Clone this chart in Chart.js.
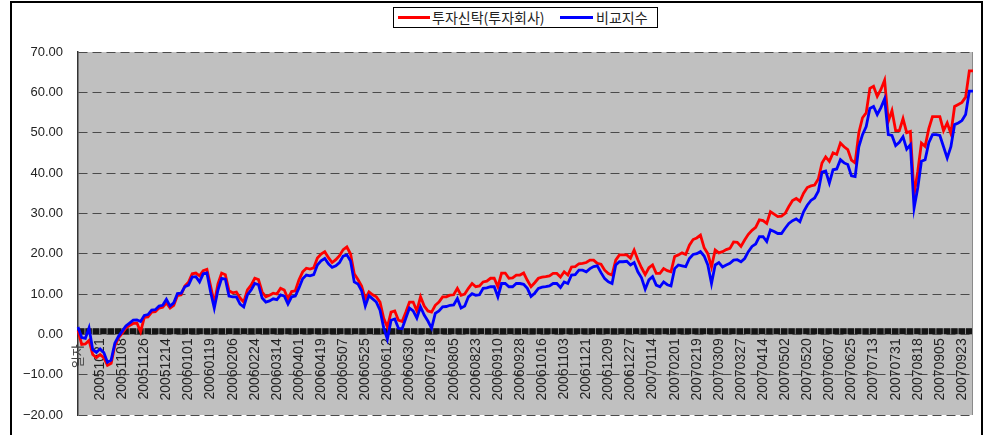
<!DOCTYPE html>
<html>
<head>
<meta charset="utf-8">
<script src="https://cdn.jsdelivr.net/npm/chart.js@4.4.1/dist/chart.umd.min.js"></script>
<style>
  body { margin: 0; background: #fff; }
  .wrap { position: relative; width: 986px; height: 435px; overflow: hidden; }
  .frame { position: absolute; left: 10px; top: 1px; width: 969px; height: 450px; border: 2px solid #000; }
  canvas { position: absolute; left: 0; top: 0; }
  .legend { position: absolute; left: 393px; top: 7px; width: 263px; height: 19px; border: 1px solid #000; background: #fff;
    font: 14px "Noto Sans CJK KR", sans-serif; color: #222; }
  .legend .sw { position: absolute; top: 8px; height: 3px; }
  .legend .tx { position: absolute; top: 0; line-height: 19px; white-space: nowrap; }
</style>
</head>
<body>
<div class="wrap">
  <div class="frame"></div>
  <canvas id="returnChart" width="986" height="435"></canvas>
  <div class="legend">
    <span class="sw" style="left:4px;width:32px;background:#ff0000"></span>
    <span class="tx" style="left:38px">투자신탁(투자회사)</span>
    <span class="sw" style="left:166px;width:33px;background:#0000ff"></span>
    <span class="tx" style="left:202px">비교지수</span>
  </div>
</div>
<script>
// sampled every 3 calendar days from 2005-10-03
const startDate = '20051003';
const sampleStepDays = 3;

const tickLabels = [
  '20051021', '20051108', '20051126', '20051214', '20060101', '20060119', '20060206', '20060224',
  '20060314', '20060401', '20060419', '20060507', '20060525', '20060612', '20060630', '20060718',
  '20060805', '20060823', '20060910', '20060928', '20061016', '20061103', '20061121', '20061209',
  '20061227', '20070114', '20070201', '20070219', '20070309', '20070327', '20070414', '20070502',
  '20070520', '20070607', '20070625', '20070713', '20070731', '20070818', '20070905', '20070923',
];

// 투자신탁(투자회사) 수익률 (%)
const fundReturn = [
  1.0, -2.5, -2.4, -1.5, -5.0, -5.8, -5.0, -5.8, -7.7, -7.2,
  -2.8, -0.9, 0.3, 1.6, 2.2, 2.7, 2.8, 0.6, 4.2, 4.3,
  5.5, 5.6, 6.5, 6.7, 7.8, 6.5, 7.2, 9.6, 9.8, 12.0,
  12.9, 15.0, 15.2, 14.5, 15.8, 16.1, 12.0, 7.7, 12.5, 15.2,
  14.8, 10.8, 10.3, 10.5, 9.0, 8.0, 11.0, 12.2, 13.9, 13.6,
  10.5, 9.3, 9.7, 10.2, 10.0, 11.4, 11.0, 8.8, 10.6, 10.8,
  13.5, 15.5, 16.4, 16.2, 16.5, 18.9, 19.9, 20.5, 19.0, 17.8,
  18.5, 19.5, 21.0, 21.7, 19.9, 15.0, 13.6, 12.0, 8.8, 10.5,
  9.8, 9.3, 8.0, 4.0, 1.8, 5.5, 5.8, 3.5, 3.2, 5.5,
  8.0, 8.0, 5.8, 9.3, 7.0, 5.8, 5.5, 7.2, 8.0, 9.3,
  9.3, 9.7, 9.8, 11.4, 9.7, 10.0, 11.4, 12.6, 11.8, 12.0,
  13.0, 13.2, 13.9, 13.9, 11.8, 15.2, 15.2, 13.9, 14.0, 14.7,
  14.7, 15.2, 13.4, 11.8, 12.8, 13.9, 14.2, 14.3, 14.5, 15.1,
  15.1, 14.2, 15.5, 14.7, 16.7, 16.8, 17.5, 17.6, 17.8, 18.4,
  18.4, 17.6, 17.4, 15.9, 15.1, 14.7, 18.4, 19.7, 19.7, 19.7,
  18.9, 20.9, 18.5, 16.5, 14.8, 16.5, 17.2, 15.1, 15.1, 16.3,
  15.8, 15.5, 19.3, 19.7, 20.2, 19.8, 22.1, 23.5, 23.9, 24.6,
  21.5, 20.0, 16.7, 20.9, 20.2, 20.5, 21.0, 21.3, 22.9, 22.8,
  21.8, 23.4, 24.8, 25.8, 26.5, 28.4, 28.2, 27.5, 30.4, 29.8,
  29.2, 29.3, 30.0, 31.7, 33.2, 33.7, 33.0, 35.0, 36.4, 36.8,
  37.0, 38.5, 42.5, 44.0, 42.9, 45.0, 44.6, 47.4, 46.5, 45.8,
  43.2, 42.5, 50.0, 53.7, 54.9, 61.0, 61.5, 59.0, 60.7, 63.0,
  52.8, 55.5, 50.5, 50.5, 53.5, 50.0, 50.3, 34.6, 40.4, 47.4,
  46.6, 51.0, 54.0, 54.0, 54.0, 50.5, 52.4, 49.8, 56.5, 57.0,
  57.5, 58.8, 65.3, 65.3,
];

// 비교지수 수익률 (%)
const benchReturn = [
  1.8, -0.8, -1.0, 1.6, -3.8, -4.5, -3.6, -4.5, -6.9, -6.4,
  -2.2, -0.5, 0.8, 2.1, 2.8, 3.5, 3.6, 3.2, 4.7, 4.9,
  6.0, 6.1, 7.0, 7.2, 8.7, 7.0, 7.8, 10.1, 10.2, 11.8,
  12.2, 14.2, 14.3, 13.0, 15.0, 15.2, 10.5, 6.5, 11.0, 13.9,
  13.7, 9.5, 9.3, 9.3, 7.5, 6.8, 9.8, 11.0, 12.6, 12.3,
  9.0, 8.0, 8.3, 8.8, 8.6, 9.8, 9.5, 7.5, 9.3, 9.5,
  11.5, 13.8, 14.7, 14.5, 14.8, 17.2, 18.2, 18.8, 17.5, 16.6,
  17.0, 17.8, 19.4, 19.7, 18.2, 13.0, 12.5, 10.8, 7.0, 9.6,
  8.8, 8.0, 6.0, 1.6, -1.2, 3.5, 3.8, 1.5, 1.4, 4.0,
  6.5, 5.8, 4.0, 6.8, 4.8, 3.3, 1.5, 5.2, 5.8, 6.8,
  6.9, 7.2, 7.3, 8.9, 6.5, 7.0, 9.3, 10.1, 9.7, 9.8,
  11.4, 11.5, 11.8, 11.8, 9.3, 12.6, 12.6, 11.8, 11.8, 12.6,
  12.6, 12.4, 11.4, 9.4, 10.2, 11.4, 11.7, 11.8, 12.0, 12.6,
  12.6, 11.6, 13.0, 12.6, 14.7, 14.8, 15.9, 15.9, 15.5, 16.3,
  16.8, 17.0, 15.3, 13.8, 13.0, 12.6, 17.2, 18.0, 18.0, 18.1,
  17.2, 17.8, 15.5, 14.0, 11.2, 13.5, 14.3, 12.2, 11.8, 13.0,
  12.3, 12.0, 16.3, 17.2, 17.0, 16.8, 18.8, 19.8, 20.0, 20.5,
  19.4, 17.2, 12.6, 17.2, 17.8, 16.7, 17.2, 17.6, 18.4, 18.5,
  18.0, 18.8, 20.5, 21.8, 22.4, 24.2, 24.2, 23.0, 25.9, 25.5,
  25.0, 25.0, 26.3, 27.5, 28.2, 28.6, 27.9, 30.4, 32.0, 33.2,
  33.8, 35.5, 40.2, 40.5, 37.5, 40.8, 41.0, 43.3, 42.5, 42.1,
  39.3, 39.1, 46.5, 49.5, 51.5, 56.0, 56.5, 54.5, 56.2, 58.4,
  49.5, 49.3, 46.8, 47.6, 49.0, 45.9, 47.0, 31.3, 36.3, 42.9,
  43.3, 47.5, 49.5, 49.5, 49.3, 46.5, 43.7, 46.5, 52.0, 52.4,
  53.0, 54.5, 60.3, 60.3,
];

const yMin = -20;
const yMax = 70;
const yStep = 10;

const pad2 = (n) => String(n).padStart(2, '0');

const buildDates = () => {
  const base = Date.UTC(+startDate.slice(0, 4), +startDate.slice(4, 6) - 1, +startDate.slice(6, 8));
  return fundReturn.map((_, i) => {
    const d = new Date(base + i * sampleStepDays * 86400000);
    return `${d.getUTCFullYear()}${pad2(d.getUTCMonth() + 1)}${pad2(d.getUTCDate())}`;
  });
};

const sampleDates = buildDates();

const plotDecor = {
  id: 'plotDecor',
  beforeDraw(chart) {
    const { ctx, chartArea: a } = chart;
    ctx.save();
    ctx.fillStyle = '#c0c0c0';
    ctx.fillRect(a.left, a.top, a.right - a.left, a.bottom - a.top);
    ctx.restore();
  },
  beforeDatasetsDraw(chart) {
    const { ctx, chartArea: a, scales } = chart;
    const y0 = scales.y.getPixelForValue(0);
    ctx.save();
    // the thick category axis at 0
    ctx.fillStyle = '#8c8c8c';
    ctx.fillRect(a.left, y0 - 6, a.right - a.left, 6);
    ctx.strokeStyle = '#141414';
    ctx.lineWidth = 6;
    ctx.setLineDash([6.4, 1]);
    ctx.beginPath();
    ctx.moveTo(a.left, y0 - 3);
    ctx.lineTo(a.right, y0 - 3);
    ctx.stroke();
    // right edge of the plot
    ctx.setLineDash([]);
    ctx.strokeStyle = '#8a8a8a';
    ctx.lineWidth = 1;
    ctx.beginPath();
    ctx.moveTo(a.right - 0.5, a.top);
    ctx.lineTo(a.right - 0.5, a.bottom);
    ctx.stroke();
    ctx.restore();
  },
  afterDraw(chart) {
    const { ctx, chartArea: a, scales } = chart;
    const y0 = scales.y.getPixelForValue(0);
    ctx.save();
    ctx.translate(a.left - 1, y0 + 22);
    ctx.rotate(-Math.PI / 2);
    ctx.fillStyle = '#444';
    ctx.font = '13px "Noto Sans CJK KR"';
    ctx.textAlign = 'center';
    ctx.textBaseline = 'middle';
    ctx.fillText('일자', 0, 0);
    ctx.restore();
  },
};

new Chart(document.getElementById('returnChart'), {
  type: 'line',
  data: {
    labels: sampleDates,
    datasets: [
      {
        label: '투자신탁(투자회사)',
        data: fundReturn,
        borderColor: '#ff0000',
        borderWidth: 2.8,
        pointRadius: 0,
        tension: 0,
        order: 1,
      },
      {
        label: '비교지수',
        data: benchReturn,
        borderColor: '#0000ff',
        borderWidth: 2.8,
        pointRadius: 0,
        tension: 0,
        order: 0,
      },
    ],
  },
  options: {
    responsive: false,
    animation: false,
    layout: { padding: { top: 52, right: 13, bottom: 20, left: 0 } },
    plugins: {
      legend: { display: false },
      tooltip: { enabled: false },
    },
    scales: {
      x: {
        type: 'category',
        position: { y: 0 },
        grid: { display: false, drawTicks: false },
        border: { display: false },
        ticks: {
          autoSkip: false,
          maxRotation: 90,
          minRotation: 90,
          padding: 4,
          color: '#222',
          font: { family: '"Liberation Sans", Arial', size: 14 },
          callback(value) {
            const label = this.getLabelForValue(value);
            return tickLabels.includes(label) ? label : null;
          },
        },
      },
      y: {
        min: yMin,
        max: yMax,
        afterFit: (scale) => {
          scale.width = 78;
          scale.paddingTop = 0;
          scale.paddingBottom = 0;
        },
        grid: { color: '#4a4a4a', lineWidth: 1, drawTicks: false },
        border: { display: true, color: '#333', width: 1.5, dash: [9, 5] },
        ticks: {
          stepSize: yStep,
          padding: 15,
          color: '#222',
          font: { family: '"Liberation Sans", Arial', size: 13 },
          callback: (value) => value.toFixed(2).replace('-', '\u2212'),
        },
      },
    },
  },
  plugins: [plotDecor],
});
</script>
</body>
</html>
